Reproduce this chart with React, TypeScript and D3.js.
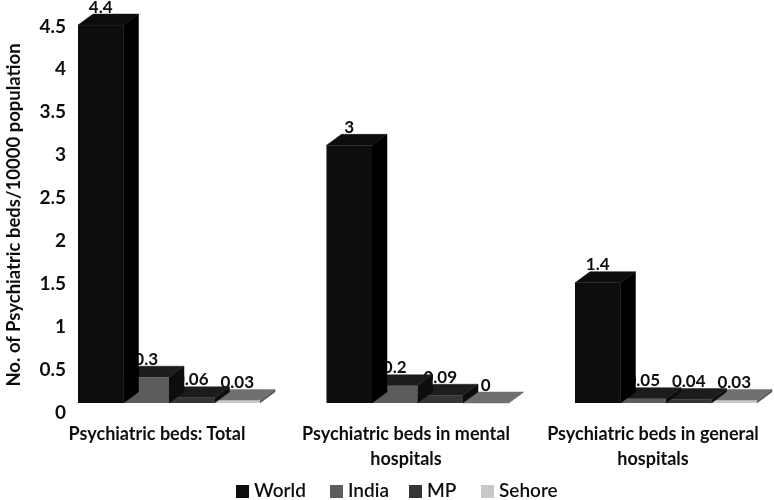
import React from "react";
import * as d3 from "d3";

const categories = [["Psychiatric beds: Total"], ["Psychiatric beds in mental", "hospitals"], ["Psychiatric beds in general", "hospitals"]];
const seriesNames = ["World", "India", "MP", "Sehore"];
const world = [4.4, 3, 1.4];
const india = [0.3, 0.2, 0.05];
const mp = [0.06, 0.09, 0.04];
const sehore = [0.03, 0, 0.03];
const yTicks = [0, 0.5, 1, 1.5, 2, 2.5, 3, 3.5, 4, 4.5];
const frontColors = ["#0a0a0a", "#5c5c5c", "#363636", "#c8c8c8"];
const topColors = ["#0e0e0e", "#1b1b1b", "#1d1d1d", "#707070"];
const sideColors = ["#000000", "#0c0c0c", "#111111", "#5a5a5a"];
const legendX = [236, 330, 409, 481];

const font = "Lato, 'Open Sans', sans-serif";
const DX = 15;
const DY = 11;

export default function App() {
  const y = d3.scaleLinear().domain([0, 4.5]).range([403, 16.5]);
  const groupX = d3.scalePoint<number>().domain([0, 1, 2]).range([78, 575]);
  const barX = d3.scaleBand<number>().domain([0, 1, 2, 3]).range([0, 182]);
  const w = barX.bandwidth();
  const seriesValues = [world, india, mp, sehore];
  const order = [3, 2, 1, 0];
  const pts = (p: number[][]) => p.map((q) => q.join(",")).join(" ");

  return (
    <svg width={774} height={500} style={{ position: "absolute", left: 0, top: 0, background: "#fff" }} fontFamily={font} fontWeight={700} fill="#111">
      <defs>
        <filter id="soft"><feGaussianBlur stdDeviation="0.4" /></filter>
      </defs>
      <g filter="url(#soft)">
        {yTicks.map((t) => (
          <text key={t} x={66} y={y(t) + 16} textAnchor="end" fontSize={19}>{t}</text>
        ))}
        <text transform="translate(20,215) rotate(-90)" textAnchor="middle" fontSize={18.5}>No. of Psychiatric beds/10000 population</text>
        {[0, 1, 2].map((g) => (
          <g key={g}>
            {order.map((s) => {
              const v = seriesValues[s][g];
              const x0 = (groupX(g) as number) + (barX(s) as number);
              const x1 = x0 + w;
              const yt = y(v);
              const yb = y(0);
              return (
                <g key={s}>
                  <text x={x0 + w / 2} y={yt - DY - 1.5} textAnchor="middle" fontSize={17}>{v}</text>
                  <polygon points={pts([[x1, yt], [x1 + DX, yt - DY], [x1 + DX, yb - DY], [x1, yb]])} fill={sideColors[s]} stroke={sideColors[s]} strokeWidth={0.5} />
                  <polygon points={pts([[x0, yt], [x0 + DX, yt - DY], [x1 + DX, yt - DY], [x1, yt]])} fill={topColors[s]} stroke={topColors[s]} strokeWidth={0.5} />
                  <rect x={x0} y={yt} width={w} height={yb - yt} fill={frontColors[s]} />
                </g>
              );
            })}
            <text textAnchor="middle" fontSize={18}>
              {categories[g].map((line, i) => (
                <tspan key={i} x={[157, 406, 653][g]} y={440 + i * 25}>{line}</tspan>
              ))}
            </text>
          </g>
        ))}
        {seriesNames.map((n, i) => (
          <g key={n}>
            <rect x={legendX[i]} y={485} width={13} height={13} fill={frontColors[i]} />
            <text x={legendX[i] + 18} y={497} fontSize={19} fontWeight={600}>{n}</text>
          </g>
        ))}
      </g>
    </svg>
  );
}
